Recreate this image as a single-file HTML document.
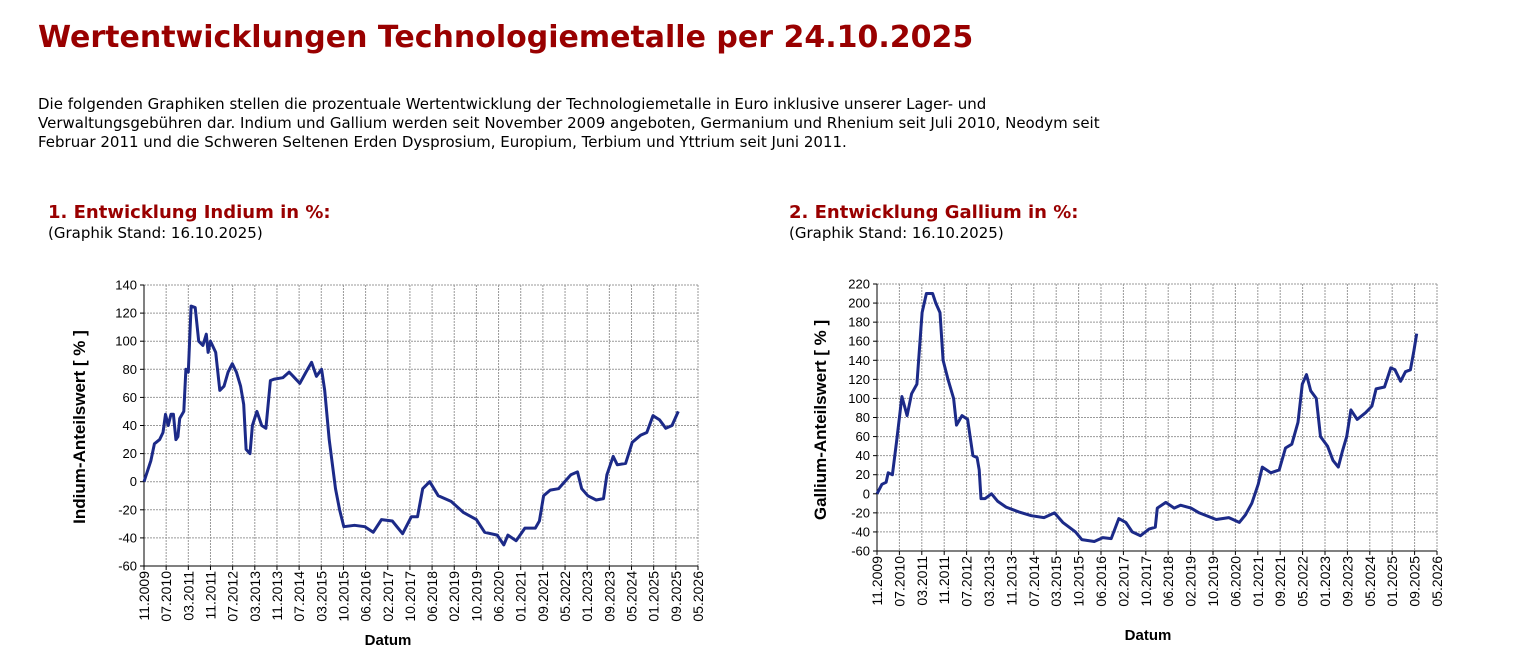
<!DOCTYPE html>
<html><head><meta charset="utf-8"><style>
body{margin:0;background:#fff;width:1531px;height:670px;overflow:hidden;position:relative;font-family:"DejaVu Sans",Verdana,sans-serif}
h1{position:absolute;left:38px;top:20px;margin:0;font-size:30px;font-weight:bold;color:#990000;white-space:nowrap}
p{position:absolute;left:38px;top:95px;margin:0;font-size:15px;line-height:19px;color:#000;width:1200px}
.h{position:absolute;font-size:18px;font-weight:bold;color:#990000;white-space:nowrap}
.s{position:absolute;font-size:15px;white-space:nowrap}
svg{position:absolute;left:0;top:0}
svg text{font-family:"Liberation Sans",Arial,sans-serif;font-size:13px;fill:#000}
</style></head><body>
<h1>Wertentwicklungen Technologiemetalle per 24.10.2025</h1>
<p>Die folgenden Graphiken stellen die prozentuale Wertentwicklung der Technologiemetalle in Euro inklusive unserer Lager- und<br>Verwaltungsgebühren dar. Indium und Gallium werden seit November 2009 angeboten, Germanium und Rhenium seit Juli 2010, Neodym seit<br>Februar 2011 und die Schweren Seltenen Erden Dysprosium, Europium, Terbium und Yttrium seit Juni 2011.</p>
<div class="h" style="left:48px;top:202px">1. Entwicklung Indium in %:</div>
<div class="s" style="left:48px;top:224px">(Graphik Stand: 16.10.2025)</div>
<div class="h" style="left:789px;top:202px">2. Entwicklung Gallium in %:</div>
<div class="s" style="left:789px;top:224px">(Graphik Stand: 16.10.2025)</div>
<svg id="s" width="1531" height="670"></svg>
<script>
var labs=["11.2009","07.2010","03.2011","11.2011","07.2012","03.2013","11.2013","07.2014","03.2015","10.2015","06.2016","02.2017","10.2017","06.2018","02.2019","10.2019","06.2020","01.2021","09.2021","05.2022","01.2023","09.2023","05.2024","01.2025","09.2025","05.2026"];
var ind=[[0,0],[0.2,15],[0.3,27],[0.45,30],[0.55,35],[0.62,48],[0.7,40],[0.78,48],[0.85,48],[0.92,30],[0.98,32],[1.03,45],[1.15,50],[1.21,80],[1.28,78],[1.36,125],[1.48,124],[1.58,100],[1.7,97],[1.8,105],[1.85,92],[1.92,100],[2.07,92],[2.19,65],[2.31,68],[2.43,78],[2.55,84],[2.67,78],[2.79,68],[2.88,55],[2.95,23],[3.06,20],[3.13,40],[3.26,50],[3.4,40],[3.52,38],[3.65,72],[3.77,73],[4.01,74],[4.19,78],[4.31,75],[4.5,70],[4.68,78],[4.84,85],[4.98,75],[5.13,80],[5.22,65],[5.35,30],[5.53,-5],[5.65,-20],[5.77,-32],[6.08,-31],[6.38,-32],[6.62,-36],[6.86,-27],[7.17,-28],[7.47,-37],[7.72,-25],[7.9,-25],[8.05,-5],[8.25,0],[8.5,-10],[8.87,-14],[9.23,-22],[9.6,-27],[9.84,-36],[10.2,-38],[10.39,-45],[10.51,-38],[10.75,-42],[11,-33],[11.3,-33],[11.42,-28],[11.54,-10],[11.73,-6],[11.97,-5],[12.15,0],[12.33,5],[12.52,7],[12.64,-5],[12.82,-10],[13.06,-13],[13.27,-12],[13.37,5],[13.55,18],[13.67,12],[13.91,13],[14.1,28],[14.34,33],[14.52,35],[14.7,47],[14.89,44],[15.07,38],[15.25,40],[15.43,50]];
var gal=[[0,0],[0.14,10],[0.26,12],[0.32,22],[0.44,20],[0.56,55],[0.71,102],[0.86,82],[0.99,105],[1.14,115],[1.29,190],[1.41,210],[1.59,210],[1.68,200],[1.8,190],[1.89,140],[2.03,120],[2.19,100],[2.27,72],[2.43,82],[2.59,78],[2.74,40],[2.86,38],[2.92,25],[2.97,-5],[3.09,-5],[3.27,0],[3.45,-8],[3.69,-14],[4.05,-19],[4.41,-23],[4.77,-25],[5.07,-20],[5.31,-30],[5.67,-40],[5.85,-48],[6.21,-50],[6.45,-46],[6.69,-47],[6.91,-26],[7.11,-30],[7.29,-40],[7.53,-44],[7.77,-37],[7.95,-35],[8.01,-15],[8.25,-9],[8.49,-15],[8.67,-12],[8.97,-15],[9.21,-20],[9.69,-27],[10.05,-25],[10.35,-30],[10.53,-22],[10.71,-10],[10.89,10],[11.01,28],[11.25,22],[11.49,25],[11.67,48],[11.85,52],[12.03,75],[12.15,115],[12.27,125],[12.39,108],[12.55,100],[12.67,60],[12.87,50],[13.03,35],[13.18,28],[13.3,45],[13.42,60],[13.54,88],[13.72,78],[13.96,85],[14.14,92],[14.26,110],[14.5,112],[14.68,132],[14.8,130],[14.96,118],[15.1,128],[15.24,130],[15.34,150],[15.42,168]];
var s='';
function chart(x0,x1,y0,y1,vmin,vmax,step,data,ytitle,tx,ty,dx,dy){
 var n=(vmax-vmin)/step,i,v,N=25;
 function X(t){return x0+(x1-x0)*t/16}
 function G(i){return x0+(x1-x0)*i/N}
 function Y(v){return y1-(y1-y0)*(v-vmin)/(vmax-vmin)}
 for(i=1;i<=n;i++){v=Y(vmin+i*step);s+='<line x1="'+x0+'" x2="'+x1+'" y1="'+v+'" y2="'+v+'" stroke="#999" stroke-dasharray="2,1"/>';}
 for(i=1;i<=N;i++){v=G(i);s+='<line x1="'+v+'" x2="'+v+'" y1="'+y0+'" y2="'+y1+'" stroke="#999" stroke-dasharray="2,1"/>';}
 s+='<line x1="'+x0+'" x2="'+x0+'" y1="'+y0+'" y2="'+y1+'" stroke="#000"/><line x1="'+x0+'" x2="'+x1+'" y1="'+y1+'" y2="'+y1+'" stroke="#000"/>';
 for(i=0;i<=n;i++){v=Y(vmin+i*step);s+='<line x1="'+(x0-4)+'" x2="'+x0+'" y1="'+v+'" y2="'+v+'" stroke="#000"/><text x="'+(x0-7)+'" y="'+(v+4.5)+'" text-anchor="end">'+(vmin+i*step)+'</text>';}
 for(i=0;i<=N;i++){v=G(i);s+='<line x1="'+v+'" x2="'+v+'" y1="'+y1+'" y2="'+(y1+4)+'" stroke="#000"/><text transform="translate('+(v+5)+','+(y1+5)+') rotate(-90)" text-anchor="end" style="font-size:14px">'+labs[i]+'</text>';}
 var d='';data.forEach(function(p,k){d+=(k?'L':'M')+X(p[0]).toFixed(1)+','+Y(p[1]).toFixed(1)});
 s+='<path d="'+d+'" fill="none" stroke="#1c2a88" stroke-width="3" stroke-linejoin="round"/>';
 s+='<text transform="translate('+tx+','+ty+') rotate(-90)" text-anchor="middle" style="font-weight:bold;font-size:17px">'+ytitle+'</text>';
 s+='<text x="'+dx+'" y="'+dy+'" text-anchor="middle" style="font-weight:bold;font-size:15px">Datum</text>';
}
chart(144,698,285,566,-60,140,20,ind,"Indium-Anteilswert [ % ]",85,427,388,645);
chart(877,1437,284,551,-60,220,20,gal,"Gallium-Anteilswert [ % ]",826,420,1148,640);
document.getElementById('s').innerHTML=s;
</script>
</body></html>
